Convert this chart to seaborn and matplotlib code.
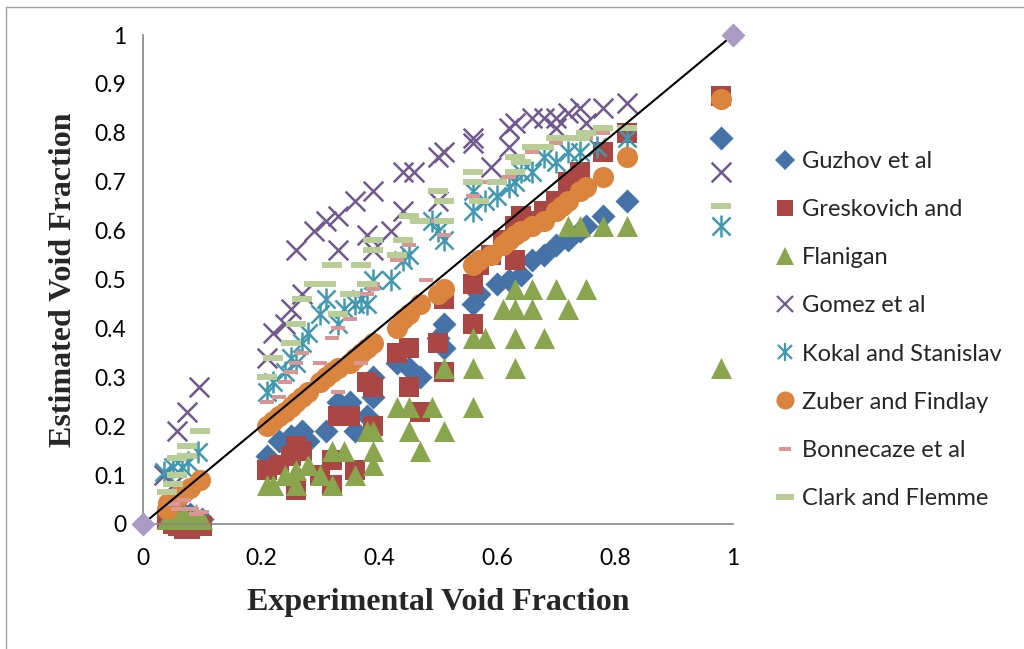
import numpy as np
import pandas as pd
import matplotlib
matplotlib.use("Agg")
import matplotlib.pyplot as plt
import seaborn as sns
from matplotlib.path import Path
from matplotlib.lines import Line2D
from matplotlib.legend_handler import HandlerTuple

# ---------------- data ----------------
guzhov_x = [0.05, 0.07, 0.08, 0.1, 0.21, 0.23, 0.25, 0.27, 0.28, 0.31, 0.33, 0.35, 0.36, 0.38, 0.39, 0.39,
            0.43, 0.45, 0.47, 0.5, 0.51, 0.51, 0.56, 0.57, 0.6, 0.62, 0.64, 0.66, 0.68, 0.7, 0.72,
            0.74, 0.75, 0.78, 0.82, 0.98]
guzhov_y = [0.01, 0.02, 0.02, 0.01, 0.14, 0.17, 0.18, 0.19, 0.17, 0.19, 0.25, 0.25, 0.19, 0.22, 0.26, 0.30,
            0.33, 0.32, 0.30, 0.38, 0.41, 0.36, 0.45, 0.47, 0.49, 0.50, 0.51, 0.54, 0.55, 0.57, 0.58,
            0.60, 0.61, 0.63, 0.66, 0.79]

gresk_x = [0.04, 0.05, 0.06, 0.07, 0.08, 0.09, 0.1, 0.21, 0.23, 0.25, 0.26, 0.27, 0.26, 0.3, 0.32, 0.32,
           0.33, 0.35, 0.36, 0.38, 0.39, 0.39, 0.43, 0.45, 0.45, 0.47, 0.5, 0.51, 0.51, 0.56, 0.56,
           0.57, 0.59, 0.61, 0.63, 0.63, 0.64, 0.66, 0.68, 0.7, 0.72, 0.74, 0.78, 0.82, 0.98]
gresk_y = [0.01, 0.0, -0.005, -0.01, -0.01, 0.0, -0.005, 0.11, 0.12, 0.14, 0.16, 0.15, 0.07, 0.10, 0.13, 0.08,
           0.22, 0.22, 0.11, 0.29, 0.28, 0.20, 0.35, 0.36, 0.28, 0.23, 0.37, 0.31, 0.46, 0.41, 0.49,
           0.53, 0.55, 0.58, 0.54, 0.61, 0.63, 0.62, 0.64, 0.66, 0.70, 0.72, 0.76, 0.80, 0.875]

flan_x = [0.04, 0.05, 0.06, 0.07, 0.08, 0.09, 0.1, 0.21, 0.22, 0.24, 0.26, 0.26, 0.28, 0.3, 0.32, 0.32,
          0.34, 0.36, 0.38, 0.39, 0.39, 0.39, 0.43, 0.45, 0.45, 0.47, 0.49, 0.51, 0.51, 0.56, 0.56,
          0.56, 0.58, 0.61, 0.63, 0.63, 0.63, 0.63, 0.66, 0.66, 0.68, 0.7, 0.72, 0.72, 0.74, 0.75,
          0.78, 0.82, 0.98]
flan_y = [0.01, 0.02, 0.01, 0.02, 0.01, 0.02, 0.01, 0.08, 0.08, 0.10, 0.11, 0.08, 0.12, 0.10, 0.15, 0.08,
          0.15, 0.10, 0.19, 0.12, 0.15, 0.19, 0.24, 0.19, 0.24, 0.15, 0.24, 0.19, 0.32, 0.24, 0.32,
          0.38, 0.38, 0.44, 0.44, 0.32, 0.38, 0.48, 0.44, 0.48, 0.38, 0.48, 0.44, 0.61, 0.61, 0.48,
          0.61, 0.61, 0.32]

gomez_x = [0.035, 0.05, 0.057, 0.074, 0.095, 0.21, 0.22, 0.24, 0.25, 0.27, 0.26, 0.29, 0.31, 0.33, 0.33,
           0.36, 0.39, 0.39, 0.38, 0.42, 0.44, 0.44, 0.46, 0.5, 0.51, 0.5, 0.56, 0.56, 0.59, 0.62,
           0.63, 0.62, 0.66, 0.68, 0.7, 0.7, 0.72, 0.74, 0.75, 0.78, 0.82, 0.98]
gomez_y = [0.10, 0.08, 0.19, 0.23, 0.28, 0.34, 0.39, 0.41, 0.44, 0.47, 0.56, 0.60, 0.62, 0.63, 0.56,
           0.66, 0.68, 0.56, 0.59, 0.60, 0.64, 0.72, 0.72, 0.75, 0.76, 0.66, 0.79, 0.78, 0.73, 0.81,
           0.82, 0.77, 0.83, 0.83, 0.83, 0.81, 0.84, 0.85, 0.82, 0.85, 0.86, 0.72]

kokal_x = [0.035, 0.05, 0.066, 0.077, 0.094, 0.21, 0.22, 0.24, 0.25, 0.26, 0.27, 0.28, 0.3, 0.31, 0.33,
           0.34, 0.36, 0.37, 0.38, 0.39, 0.42, 0.44, 0.45, 0.49, 0.5, 0.51, 0.56, 0.56, 0.58, 0.6,
           0.62, 0.63, 0.64, 0.66, 0.68, 0.7, 0.72, 0.74, 0.77, 0.82, 0.98]
kokal_y = [0.106, 0.117, 0.117, 0.127, 0.147, 0.27, 0.29, 0.31, 0.34, 0.33, 0.37, 0.39, 0.43, 0.46, 0.41,
           0.44, 0.45, 0.46, 0.45, 0.50, 0.50, 0.54, 0.55, 0.62, 0.60, 0.58, 0.64, 0.68, 0.66, 0.67,
           0.69, 0.70, 0.72, 0.72, 0.75, 0.74, 0.76, 0.76, 0.77, 0.79, 0.61]

zuber_x = [0.04, 0.042, 0.05, 0.063, 0.07, 0.08, 0.097, 0.21, 0.22, 0.23, 0.24, 0.25, 0.26, 0.27, 0.28,
           0.3, 0.31, 0.32, 0.33, 0.35, 0.36, 0.37, 0.38, 0.39, 0.43, 0.44, 0.45, 0.47, 0.5, 0.51,
           0.56, 0.57, 0.59, 0.61, 0.62, 0.63, 0.64, 0.66, 0.68, 0.7, 0.71, 0.72, 0.74, 0.75, 0.78,
           0.82, 0.98]
zuber_y = [0.03, 0.043, 0.05, 0.06, 0.066, 0.074, 0.09, 0.20, 0.21, 0.22, 0.23, 0.24, 0.25, 0.26, 0.27,
           0.29, 0.30, 0.31, 0.32, 0.33, 0.34, 0.35, 0.36, 0.37, 0.40, 0.42, 0.43, 0.45, 0.47, 0.48,
           0.53, 0.54, 0.55, 0.57, 0.58, 0.59, 0.60, 0.61, 0.62, 0.64, 0.65, 0.66, 0.68, 0.69, 0.71,
           0.75, 0.87]

bonn_x = [0.05, 0.06, 0.07, 0.083, 0.09, 0.1, 0.21, 0.23, 0.24, 0.25, 0.26, 0.27, 0.3, 0.32, 0.33, 0.33,
          0.35, 0.37, 0.38, 0.39, 0.39, 0.43, 0.45, 0.48, 0.5, 0.51, 0.56, 0.58, 0.6, 0.62, 0.63,
          0.64, 0.66, 0.68, 0.7, 0.72, 0.75, 0.78, 0.82]
bonn_y = [0.04, 0.03, 0.05, 0.03, 0.02, 0.025, 0.25, 0.26, 0.29, 0.31, 0.33, 0.35, 0.33, 0.38, 0.40, 0.27,
          0.42, 0.33, 0.47, 0.49, 0.48, 0.54, 0.57, 0.50, 0.62, 0.59, 0.67, 0.70, 0.70, 0.71, 0.72,
          0.74, 0.76, 0.77, 0.78, 0.79, 0.79, 0.80, 0.81]

clark_x = [0.04, 0.05, 0.057, 0.057, 0.075, 0.075, 0.097, 0.21, 0.22, 0.25, 0.26, 0.27, 0.29, 0.31, 0.32,
           0.33, 0.35, 0.37, 0.38, 0.39, 0.39, 0.43, 0.44, 0.45, 0.47, 0.5, 0.51, 0.51, 0.56, 0.56,
           0.57, 0.6, 0.63, 0.63, 0.64, 0.66, 0.68, 0.7, 0.72, 0.74, 0.75, 0.78, 0.82, 0.98]
clark_y = [0.065, 0.082, 0.10, 0.135, 0.14, 0.16, 0.19, 0.30, 0.34, 0.37, 0.41, 0.46, 0.49, 0.49, 0.53,
           0.43, 0.47, 0.53, 0.49, 0.56, 0.58, 0.55, 0.58, 0.63, 0.62, 0.68, 0.66, 0.62, 0.72, 0.70,
           0.66, 0.70, 0.72, 0.75, 0.74, 0.77, 0.77, 0.79, 0.79, 0.79, 0.80, 0.81, 0.81, 0.65]

ideal_x = [0, 1]
ideal_y = [0, 1]

x_ticks = [0, 0.2, 0.4, 0.6, 0.8, 1]
x_tick_labels = ["0", "0.2", "0.4", "0.6", "0.8", "1"]
y_ticks = [0, 0.1, 0.2, 0.3, 0.4, 0.5, 0.6, 0.7, 0.8, 0.9, 1]
y_tick_labels = ["0", "0.1", "0.2", "0.3", "0.4", "0.5", "0.6", "0.7", "0.8", "0.9", "1"]

# ---------------- style ----------------
sns.set_theme(style="white")
plt.rcParams["font.family"] = ["Lato", "DejaVu Sans"]

fig = plt.figure(figsize=(10.24, 6.49), dpi=100)
ax = fig.add_axes([143 / 1024, 1 - 524 / 649, 590 / 1024, 489 / 649])

dash_big = Path([(-1, -0.28), (1, -0.28), (1, 0.28), (-1, 0.28), (-1, -0.28)],
                [Path.MOVETO, Path.LINETO, Path.LINETO, Path.LINETO, Path.CLOSEPOLY])

C_BLUE = "#4572a7"
C_RED = "#aa4643"
C_GREEN = "#89a54e"
C_PURPLE = "#71588f"
C_TEAL = "#4198af"
C_ORANGE = "#db843d"
C_PINK = "#d99694"
C_LGREEN = "#b9cd96"
C_LAV = "#a99bc6"

def sc(x, y, marker, color, s, lw=0, **kw):
    df = pd.DataFrame({"x": x, "y": y})
    return sns.scatterplot(data=df, x="x", y="y", ax=ax, marker=marker, color=color, s=s,
                           linewidth=lw, edgecolor=kw.pop("edgecolor", color), legend=False,
                           clip_on=False, **kw)

# draw order similar to Excel (series order)
sc(guzhov_x, guzhov_y, "D", C_BLUE, 150)
sc(gresk_x, gresk_y, "s", C_RED, 210)
sc(flan_x, flan_y, "^", C_GREEN, 230)
sc(gomez_x, gomez_y, "x", C_PURPLE, 200, lw=1.8)
sc(kokal_x, kokal_y, "x", C_TEAL, 170, lw=1.8)
sc(kokal_x, kokal_y, "|", C_TEAL, 230, lw=1.8)
sc(zuber_x, zuber_y, "o", C_ORANGE, 230)
sc(bonn_x, bonn_y, dash_big, C_PINK, 90)
sc(clark_x, clark_y, dash_big, C_LGREEN, 210)

sns.lineplot(x=ideal_x, y=ideal_y, ax=ax, color="black", linewidth=1.5, legend=False)
sc(ideal_x, ideal_y, "D", C_LAV, 150, zorder=5)

ax.set_xlim(0, 1)
ax.set_ylim(0, 1)
ax.set_xticks(x_ticks)
ax.set_xticklabels(x_tick_labels)
ax.set_yticks(y_ticks)
ax.set_yticklabels(y_tick_labels)
ax.tick_params(axis="both", which="both", direction="out", length=5, width=1, color="#868686",
               labelsize=16.5, labelcolor="black")
ax.tick_params(axis="x", pad=12)
ax.tick_params(axis="y", pad=7)
for side in ["top", "right"]:
    ax.spines[side].set_visible(False)
for side in ["left", "bottom"]:
    ax.spines[side].set_color("#868686")
    ax.spines[side].set_linewidth(1.2)

ax.set_xlabel("Experimental Void Fraction", family="Liberation Serif", fontweight="bold",
              fontsize=23, labelpad=14)
ax.set_ylabel("Estimated Void Fraction", family="Liberation Serif", fontweight="bold",
              fontsize=23, labelpad=12)

# legend
def mk(marker, color, ms, mew=0):
    return Line2D([], [], linestyle="none", marker=marker, color=color, markersize=ms,
                  markeredgewidth=mew, markeredgecolor=color)

handles = [
    mk("D", C_BLUE, 10),
    mk("s", C_RED, 12),
    mk("^", C_GREEN, 13),
    mk("x", C_PURPLE, 11, mew=1.6),
    (mk("x", C_TEAL, 10, mew=1.6), mk("|", C_TEAL, 13, mew=1.6)),
    mk("o", C_ORANGE, 13),
    mk(dash_big, C_PINK, 9),
    mk(dash_big, C_LGREEN, 13),
]
labels = ["Guzhov et al", "Greskovich and", "Flanigan", "Gomez et al", "Kokal and Stanislav",
          "Zuber and Findlay", "Bonnecaze et al", "Clark and Flemme"]
leg = ax.legend(handles, labels, loc="upper left", bbox_to_anchor=(774 / 1024, 1 - 151 / 649),
                bbox_transform=fig.transFigure, frameon=False, fontsize=17,
                handler_map={tuple: HandlerTuple(ndivide=1, pad=0)},
                handlelength=0.9, handletextpad=0.3, labelspacing=1.15, borderaxespad=0,
                borderpad=0)

# outer chart-area border
fig.add_artist(Line2D([6 / 1024, 6 / 1024], [0, 1 - 7 / 649], transform=fig.transFigure,
                      color="#a0a0a0", linewidth=1))
fig.add_artist(Line2D([6 / 1024, 1], [1 - 7 / 649, 1 - 7 / 649], transform=fig.transFigure,
                      color="#a0a0a0", linewidth=1))

fig.savefig("out.png", dpi=100)
